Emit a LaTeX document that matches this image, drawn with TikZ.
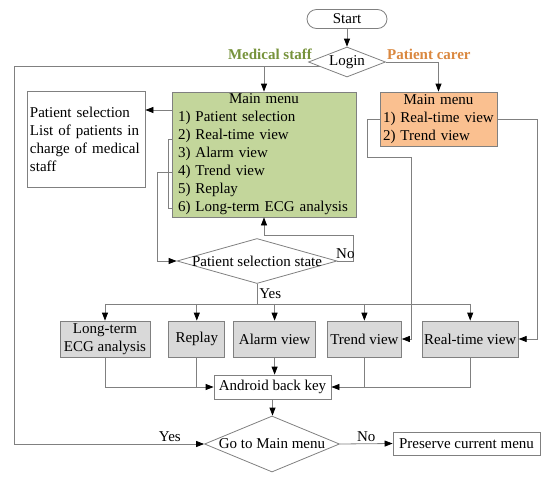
\documentclass[tikz,border=0pt]{standalone}
\usepackage{fontspec}
\setmainfont{Liberation Serif}
\usetikzlibrary{shapes.geometric,arrows.meta,positioning}

\definecolor{medgreen}{HTML}{C3D69B}
\definecolor{carorange}{HTML}{FAC090}
\definecolor{medtext}{HTML}{77933C}
\definecolor{cartext}{HTML}{DA8840}
\definecolor{viewgray}{HTML}{D9D9D9}

\begin{document}
\begin{tikzpicture}[
    x=1pt, y=-1pt,
    node distance=8pt and 10pt,
    font=\fontsize{15}{18}\selectfont,
    line/.style={draw=black!50, line width=0.8pt},
    arrow/.style={line, -{Triangle[length=8pt,width=6pt,color=black]}},
    box/.style={rectangle, draw=black!50, line width=0.8pt, inner xsep=2pt, inner ysep=1pt, minimum height=23pt},
    menubox/.style={box, inner sep=0pt, align=left},
    viewbox/.style={box, fill=viewgray, minimum height=36pt, align=center},
    decision/.style={diamond, draw=black!50, line width=0.8pt, inner sep=0pt},
    terminal/.style={rectangle, rounded corners=9.5pt, draw=black!50, line width=0.8pt, minimum width=80pt, minimum height=19pt, inner sep=0pt},
    role/.style={font=\fontsize{15}{18}\selectfont\bfseries, inner sep=0pt},
    lbl/.style={inner sep=2pt},
]
\useasboundingbox (0,0) rectangle (550,480);

% === TOP: start and login ===
\node[terminal] (start) at (347,19) {Start};
\node[decision, minimum width=77pt, minimum height=30pt, label=center:Login] (login) at (347,62) {};
\node[role, text=medtext, anchor=base east] (lmed) at (312,59) {Medical staff};
\node[role, text=cartext, anchor=base west] (lcar) at (387,59) {Patient carer};

% === MENUS ===
\node[menubox, fill=medgreen, text width=172pt, minimum width=184pt, minimum height=125pt] (mmed) at (264,154.5)
    {\centering Main menu\par\raggedright
     1) Patient selection\\2) Real-time view\\3) Alarm view\\4) Trend view\\5) Replay\\6) Long-term ECG analysis};
\node[menubox, fill=carorange, text width=111pt, minimum width=117pt, minimum height=54pt] (mcar) at (438.5,119)
    {\centering Main menu\par\raggedright
     1) Real-time view\\2) Trend view};
\node[menubox, text width=112pt, minimum width=118pt, minimum height=96pt] (psbox) at (86,139)
    {Patient selection\\List of patients in\\charge of medical\\staff};

\node[decision, minimum width=160pt, minimum height=45pt, label=center:{Patient selection state}] (psel) at (257,261) {};

% === VIEWS ===
\node[viewbox, minimum width=90pt] (lecg) at (105,339) {Long-term\\ECG analysis};
\node[viewbox, minimum width=56pt, right=18pt of lecg] (replay) {Replay};
\node[viewbox, minimum width=82pt, right=8pt of replay] (alarm) {Alarm view};
\node[viewbox, minimum width=74pt, right=11pt of alarm] (trend) {Trend view};
\node[viewbox, minimum width=96pt, right=20pt of trend] (rtv) {Real-time view};

\node[box, minimum width=117pt, minimum height=24pt] (aback) at (272.5,387) {Android back key};
\node[decision, minimum width=135pt, minimum height=56pt, label=center:{Go to Main menu}] (gomain) at (272,444) {};
\node[box, minimum width=147pt] (keep) at (466.5,443.5) {Preserve current menu};

% === CONNECTORS ===
\coordinate (lx) at (14,0);
\coordinate (tbend) at (411,157);

\draw[arrow] (start) -- (login);
\draw[arrow] (login.190) -| (mmed.north);
\draw[arrow] (login.east) -| (mcar.north);
\draw[arrow] (login.190) -- (login.190 -| lx) |- (gomain.west) node[lbl, pos=0.91, above] {Yes};

\coordinate (selout) at ([yshift=44.5pt]mmed.west);
\draw[arrow] (selout) -- (selout -| psbox.east);
\draw[line] ([yshift=15.5pt]mmed.west) -- ++(-3,0) -- ++(0,69) -- ++(3,0);
\draw[arrow] ([yshift=-17.5pt]mmed.west) -- ++(-14,0) |- (psel.west);

\draw[arrow] (psel.east) -- ++(16,0) node[lbl, midway, above] {No} |- ([yshift=-18pt]mmed.south) -- (mmed.south);
\draw[line] (psel.south) -- ++(0,20) node[lbl, midway, right] {Yes} coordinate (ybus);
\draw[line] (ybus -| lecg.north) -- (ybus -| rtv.north);
\foreach \v in {lecg,replay,alarm,trend,rtv}
    \draw[arrow] (ybus -| \v.north) -- (\v.north);

\draw[arrow] (mcar.east) -- ++(40,0) |- (rtv.east);
\draw[arrow] (mcar.west) -- ++(-12,0) |- (tbend) |- (trend.east);

\draw[arrow] (alarm.south) -- (alarm.south |- aback.north);
\draw[arrow] (lecg.south) |- (aback.west);
\draw[line] (replay.south) -- (replay.south |- aback.west);
\draw[arrow] (rtv.south) |- (aback.east);
\draw[line] (trend.south) -- (trend.south |- aback.east);

\draw[arrow] (aback.south) -- (aback.south |- gomain.north);
\draw[arrow] (gomain.east) -- (keep.west) node[lbl, midway, above] {No};

\end{tikzpicture}
\end{document}
